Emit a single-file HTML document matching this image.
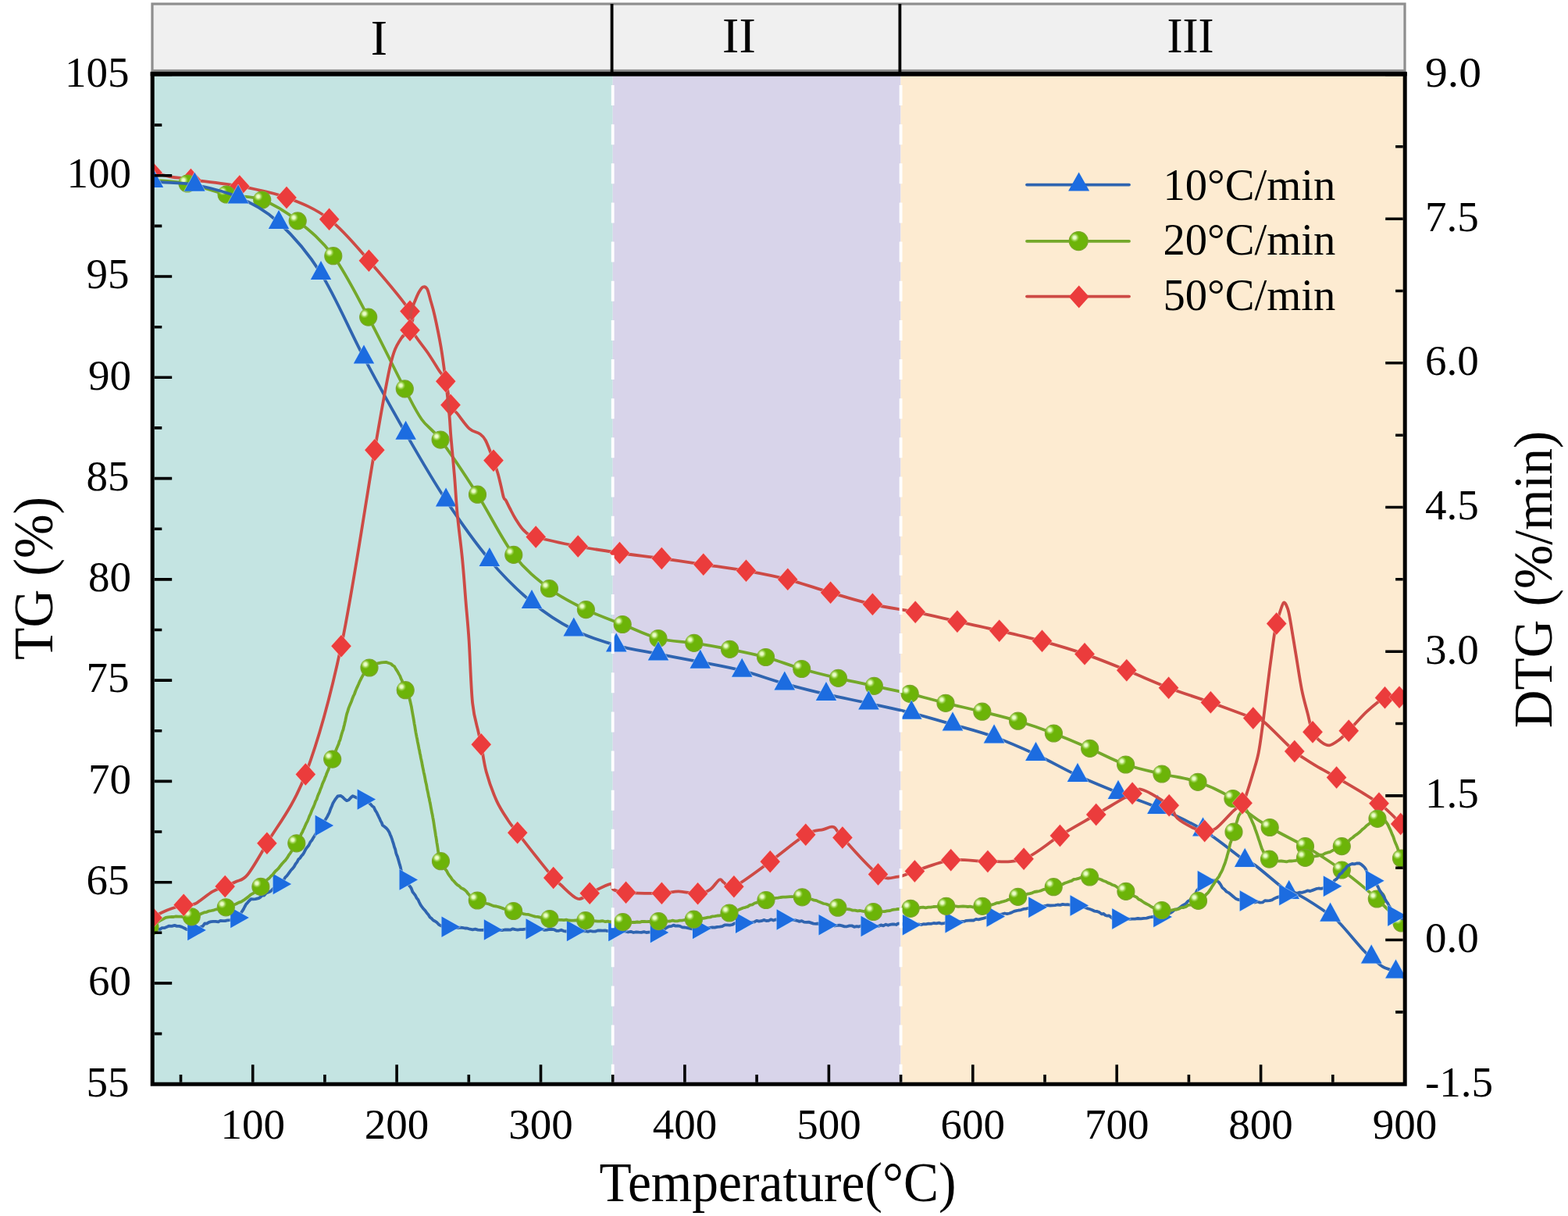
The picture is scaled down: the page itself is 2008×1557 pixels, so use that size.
<!DOCTYPE html><html><head><meta charset="utf-8"><style>html,body{margin:0;padding:0;background:#fff;}svg{display:block}</style></head><body>
<svg width="2008" height="1557" viewBox="0 0 2008 1557">
<defs>
<radialGradient id="ghl" cx="0.5" cy="0.5" r="0.5">
<stop offset="0" stop-color="#f4ffd8" stop-opacity="1"/><stop offset="0.35" stop-color="#e6fbc0" stop-opacity="0.95"/><stop offset="1" stop-color="#a8dc60" stop-opacity="0"/>
</radialGradient>
<clipPath id="plotclip"><rect x="195.2" y="95.0" width="1604.0" height="1293.2"/></clipPath>
</defs>
<rect width="2008" height="1557" fill="#ffffff"/>
<g>
<rect x="195" y="5" width="1604" height="85.5" fill="#f0f0f0" stroke="#8e8e8e" stroke-width="3.2"/>
<line x1="783.6" y1="5" x2="783.6" y2="94" stroke="#000" stroke-width="3.8"/>
<line x1="1152.4" y1="5" x2="1152.4" y2="94" stroke="#000" stroke-width="3.8"/>
<text x="485.4" y="69.7" font-size="64" text-anchor="middle" font-family="Liberation Serif, Times New Roman, serif" fill="#000">I</text>
<text x="946.4" y="66.5" font-size="64" text-anchor="middle" font-family="Liberation Serif, Times New Roman, serif" fill="#000">II</text>
<text x="1524.6" y="66.5" font-size="64" text-anchor="middle" textLength="60" lengthAdjust="spacingAndGlyphs" font-family="Liberation Serif, Times New Roman, serif" fill="#000">III</text>
<rect x="195.2" y="95.0" width="589.5" height="1293.2" fill="#c4e4e2"/>
<rect x="784.7" y="95.0" width="368.8" height="1293.2" fill="#d8d4ea"/>
<rect x="1153.6" y="95.0" width="645.6" height="1293.2" fill="#fdebd1"/>
<g clip-path="url(#plotclip)">
<path d="M195.0,221.0C199.2,221.9 213.4,225.4 219.9,226.6C226.4,227.8 229.7,227.4 233.8,228.0C237.9,228.6 232.2,228.2 244.4,230.0C256.6,231.8 286.4,234.7 306.8,238.5C327.2,242.3 347.9,246.0 367.0,253.0C386.1,260.0 404.0,267.2 421.6,280.7C439.2,294.1 455.2,314.0 472.4,333.7C489.6,353.4 516.0,384.1 525.0,398.6C534.0,413.2 522.7,412.1 526.5,421.0C530.3,429.9 542.1,443.2 548.0,452.0C553.9,460.8 558.2,468.0 562.0,474.0C565.8,480.0 568.3,480.8 570.8,488.2C573.3,495.6 574.5,511.7 577.0,518.6C579.5,525.6 581.9,524.9 585.9,529.9C589.9,534.9 596.4,544.6 601.1,548.9C605.8,553.2 610.8,553.0 614.3,555.5C617.8,558.0 618.9,558.3 621.9,564.0C624.9,569.7 629.4,582.6 632.0,589.6C634.6,596.6 635.9,600.6 637.5,606.0C639.1,611.4 640.2,616.8 641.5,622.0C642.8,627.2 643.9,633.8 645.0,637.0C646.1,640.2 646.7,638.7 648.0,641.0C649.3,643.3 651.0,647.2 653.0,651.0C655.0,654.8 657.0,659.2 660.0,664.0C663.0,668.8 666.8,675.6 671.2,679.5C675.6,683.4 674.7,684.2 686.2,687.5C697.7,690.8 722.3,696.1 740.2,699.5C758.1,702.9 775.6,705.4 793.5,708.0C811.4,710.6 829.4,712.5 847.3,715.0C865.2,717.5 882.8,720.2 900.8,722.8C918.8,725.4 937.5,727.6 955.5,730.8C973.5,734.0 990.8,737.2 1008.8,741.9C1026.8,746.6 1045.5,753.5 1063.6,758.8C1081.7,764.1 1099.3,769.6 1117.4,773.8C1135.5,777.9 1154.1,780.1 1172.2,783.7C1190.3,787.4 1208.0,791.7 1225.9,795.7C1243.8,799.7 1261.6,803.4 1279.7,807.6C1297.8,811.8 1316.3,815.8 1334.5,820.8C1352.7,825.8 1371.0,831.1 1389.0,837.4C1407.0,843.6 1424.9,851.1 1442.8,858.3C1460.7,865.5 1478.7,873.9 1496.6,880.7C1514.5,887.6 1532.4,892.9 1550.4,899.4C1568.4,905.9 1593.3,915.2 1604.8,919.5C1616.3,923.8 1610.5,917.9 1619.3,925.0C1628.1,932.1 1647.3,953.0 1657.8,962.0C1668.3,971.0 1673.5,973.3 1682.5,978.9C1691.5,984.5 1697.7,987.2 1711.6,995.5C1725.5,1003.8 1752.3,1018.9 1766.0,1028.8C1779.7,1038.7 1788.4,1049.1 1793.7,1055.0C1799.0,1060.9 1797.3,1062.5 1798.0,1064.0" fill="none" stroke="#cd4a45" stroke-width="3.8" stroke-linejoin="round" stroke-linecap="round"/>
<g fill="#eb3c3c" stroke="#ffc8c0" stroke-opacity="0.5" stroke-width="1.4" paint-order="stroke" stroke-linejoin="round">
<path d="M195.0,206.8L207.8,221.0L195.0,235.2L182.2,221.0Z"/>
<path d="M244.4,215.8L257.1,230.0L244.4,244.2L231.7,230.0Z"/>
<path d="M306.8,224.2L319.6,238.5L306.8,252.8L294.1,238.5Z"/>
<path d="M367.0,238.8L379.8,253.0L367.0,267.2L354.2,253.0Z"/>
<path d="M421.6,266.4L434.4,280.7L421.6,294.9L408.9,280.7Z"/>
<path d="M472.4,319.4L485.1,333.7L472.4,347.9L459.6,333.7Z"/>
<path d="M525.0,384.4L537.8,398.6L525.0,412.9L512.2,398.6Z"/>
<path d="M577.0,504.4L589.8,518.6L577.0,532.9L564.2,518.6Z"/>
<path d="M632.0,575.4L644.8,589.6L632.0,603.9L619.2,589.6Z"/>
<path d="M686.2,673.2L699.0,687.5L686.2,701.8L673.5,687.5Z"/>
<path d="M740.2,685.2L753.0,699.5L740.2,713.8L727.5,699.5Z"/>
<path d="M793.5,693.8L806.2,708.0L793.5,722.2L780.8,708.0Z"/>
<path d="M847.3,700.8L860.0,715.0L847.3,729.2L834.5,715.0Z"/>
<path d="M900.8,708.5L913.5,722.8L900.8,737.0L888.0,722.8Z"/>
<path d="M955.5,716.5L968.2,730.8L955.5,745.0L942.8,730.8Z"/>
<path d="M1008.8,727.6L1021.5,741.9L1008.8,756.1L996.0,741.9Z"/>
<path d="M1063.6,744.5L1076.3,758.8L1063.6,773.0L1050.8,758.8Z"/>
<path d="M1117.4,759.5L1130.2,773.8L1117.4,788.0L1104.7,773.8Z"/>
<path d="M1172.2,769.5L1185.0,783.7L1172.2,798.0L1159.5,783.7Z"/>
<path d="M1225.9,781.5L1238.7,795.7L1225.9,810.0L1213.2,795.7Z"/>
<path d="M1279.7,793.4L1292.5,807.6L1279.7,821.9L1267.0,807.6Z"/>
<path d="M1334.5,806.5L1347.2,820.8L1334.5,835.0L1321.8,820.8Z"/>
<path d="M1389.0,823.1L1401.8,837.4L1389.0,851.6L1376.2,837.4Z"/>
<path d="M1442.8,844.0L1455.5,858.3L1442.8,872.5L1430.0,858.3Z"/>
<path d="M1496.6,866.5L1509.3,880.7L1496.6,895.0L1483.8,880.7Z"/>
<path d="M1550.4,885.1L1563.2,899.4L1550.4,913.6L1537.7,899.4Z"/>
<path d="M1604.8,905.2L1617.5,919.5L1604.8,933.8L1592.0,919.5Z"/>
<path d="M1657.8,947.8L1670.5,962.0L1657.8,976.2L1645.0,962.0Z"/>
<path d="M1711.6,981.2L1724.3,995.5L1711.6,1009.8L1698.8,995.5Z"/>
<path d="M1766.0,1014.5L1778.8,1028.8L1766.0,1043.0L1753.2,1028.8Z"/>
<path d="M1793.7,1040.8L1806.5,1055.0L1793.7,1069.2L1781.0,1055.0Z"/>
</g>
<path d="M195.0,230.5C202.5,231.2 224.2,231.9 240.0,235.0C255.8,238.1 274.1,245.5 290.0,249.0C305.9,252.5 320.5,250.3 335.7,256.0C350.9,261.6 366.0,270.9 381.2,282.9C396.4,294.8 411.7,307.2 426.8,327.7C441.9,348.2 456.4,377.7 471.7,406.1C486.9,434.5 506.9,476.1 518.3,497.9C529.7,519.7 532.4,526.1 540.0,537.0C547.6,547.9 552.2,547.1 564.1,563.1C576.0,579.1 595.9,608.7 611.5,633.2C627.1,657.8 642.5,690.3 657.8,710.4C673.1,730.5 688.1,742.0 703.5,753.7C718.9,765.4 734.8,773.0 750.4,780.6C766.0,788.2 781.8,793.4 797.2,799.5C812.6,805.6 827.7,813.5 843.0,817.5C858.3,821.5 873.5,821.1 888.8,823.4C904.1,825.7 919.3,828.4 934.6,831.4C949.9,834.4 965.2,837.3 980.6,841.5C996.0,845.7 1011.2,852.0 1026.7,856.5C1042.2,861.0 1058.0,864.8 1073.5,868.4C1089.0,872.0 1104.1,875.1 1119.4,878.4C1134.7,881.7 1149.9,884.6 1165.2,888.3C1180.5,891.9 1195.6,896.5 1211.0,900.3C1226.4,904.1 1242.4,907.4 1257.8,911.2C1273.2,915.0 1288.3,918.6 1303.6,923.2C1318.9,927.8 1334.1,933.1 1349.4,939.0C1364.8,944.9 1380.3,951.7 1395.7,958.4C1411.1,965.1 1426.2,973.6 1441.6,979.0C1457.0,984.4 1472.5,987.3 1487.9,991.0C1503.3,994.7 1518.8,996.0 1534.0,1001.3C1549.2,1006.5 1568.7,1016.3 1578.9,1022.5C1589.1,1028.7 1587.3,1032.3 1595.2,1038.5C1603.1,1044.7 1613.5,1052.0 1626.2,1059.5C1638.9,1067.0 1660.2,1077.3 1671.5,1083.6C1682.8,1089.9 1686.2,1092.4 1694.0,1097.5C1701.8,1102.6 1709.6,1107.7 1718.3,1114.0C1727.0,1120.3 1738.5,1129.4 1746.0,1135.6C1753.5,1141.8 1755.1,1143.3 1763.3,1151.0C1771.5,1158.7 1789.0,1176.2 1795.0,1182.0C1801.0,1187.8 1798.3,1185.3 1799.0,1186.0" fill="none" stroke="#74a82a" stroke-width="3.8" stroke-linejoin="round" stroke-linecap="round"/>
<g>
<circle cx="240.0" cy="235.0" r="11.0" fill="#6cb408" stroke="#7aa52c" stroke-width="1.2"/><circle cx="235.0" cy="230.6" r="6" fill="url(#ghl)"/>
<circle cx="290.0" cy="249.0" r="11.0" fill="#6cb408" stroke="#7aa52c" stroke-width="1.2"/><circle cx="285.0" cy="244.6" r="6" fill="url(#ghl)"/>
<circle cx="335.7" cy="256.0" r="11.0" fill="#6cb408" stroke="#7aa52c" stroke-width="1.2"/><circle cx="330.7" cy="251.6" r="6" fill="url(#ghl)"/>
<circle cx="381.2" cy="282.9" r="11.0" fill="#6cb408" stroke="#7aa52c" stroke-width="1.2"/><circle cx="376.2" cy="278.5" r="6" fill="url(#ghl)"/>
<circle cx="426.8" cy="327.7" r="11.0" fill="#6cb408" stroke="#7aa52c" stroke-width="1.2"/><circle cx="421.8" cy="323.3" r="6" fill="url(#ghl)"/>
<circle cx="471.7" cy="406.1" r="11.0" fill="#6cb408" stroke="#7aa52c" stroke-width="1.2"/><circle cx="466.7" cy="401.7" r="6" fill="url(#ghl)"/>
<circle cx="518.3" cy="497.9" r="11.0" fill="#6cb408" stroke="#7aa52c" stroke-width="1.2"/><circle cx="513.3" cy="493.5" r="6" fill="url(#ghl)"/>
<circle cx="564.1" cy="563.1" r="11.0" fill="#6cb408" stroke="#7aa52c" stroke-width="1.2"/><circle cx="559.1" cy="558.7" r="6" fill="url(#ghl)"/>
<circle cx="611.5" cy="633.2" r="11.0" fill="#6cb408" stroke="#7aa52c" stroke-width="1.2"/><circle cx="606.5" cy="628.8" r="6" fill="url(#ghl)"/>
<circle cx="657.8" cy="710.4" r="11.0" fill="#6cb408" stroke="#7aa52c" stroke-width="1.2"/><circle cx="652.8" cy="706.0" r="6" fill="url(#ghl)"/>
<circle cx="703.5" cy="753.7" r="11.0" fill="#6cb408" stroke="#7aa52c" stroke-width="1.2"/><circle cx="698.5" cy="749.3" r="6" fill="url(#ghl)"/>
<circle cx="750.4" cy="780.6" r="11.0" fill="#6cb408" stroke="#7aa52c" stroke-width="1.2"/><circle cx="745.4" cy="776.2" r="6" fill="url(#ghl)"/>
<circle cx="797.2" cy="799.5" r="11.0" fill="#6cb408" stroke="#7aa52c" stroke-width="1.2"/><circle cx="792.2" cy="795.1" r="6" fill="url(#ghl)"/>
<circle cx="843.0" cy="817.5" r="11.0" fill="#6cb408" stroke="#7aa52c" stroke-width="1.2"/><circle cx="838.0" cy="813.1" r="6" fill="url(#ghl)"/>
<circle cx="888.8" cy="823.4" r="11.0" fill="#6cb408" stroke="#7aa52c" stroke-width="1.2"/><circle cx="883.8" cy="819.0" r="6" fill="url(#ghl)"/>
<circle cx="934.6" cy="831.4" r="11.0" fill="#6cb408" stroke="#7aa52c" stroke-width="1.2"/><circle cx="929.6" cy="827.0" r="6" fill="url(#ghl)"/>
<circle cx="980.6" cy="841.5" r="11.0" fill="#6cb408" stroke="#7aa52c" stroke-width="1.2"/><circle cx="975.6" cy="837.1" r="6" fill="url(#ghl)"/>
<circle cx="1026.7" cy="856.5" r="11.0" fill="#6cb408" stroke="#7aa52c" stroke-width="1.2"/><circle cx="1021.7" cy="852.1" r="6" fill="url(#ghl)"/>
<circle cx="1073.5" cy="868.4" r="11.0" fill="#6cb408" stroke="#7aa52c" stroke-width="1.2"/><circle cx="1068.5" cy="864.0" r="6" fill="url(#ghl)"/>
<circle cx="1119.4" cy="878.4" r="11.0" fill="#6cb408" stroke="#7aa52c" stroke-width="1.2"/><circle cx="1114.4" cy="874.0" r="6" fill="url(#ghl)"/>
<circle cx="1165.2" cy="888.3" r="11.0" fill="#6cb408" stroke="#7aa52c" stroke-width="1.2"/><circle cx="1160.2" cy="883.9" r="6" fill="url(#ghl)"/>
<circle cx="1211.0" cy="900.3" r="11.0" fill="#6cb408" stroke="#7aa52c" stroke-width="1.2"/><circle cx="1206.0" cy="895.9" r="6" fill="url(#ghl)"/>
<circle cx="1257.8" cy="911.2" r="11.0" fill="#6cb408" stroke="#7aa52c" stroke-width="1.2"/><circle cx="1252.8" cy="906.8" r="6" fill="url(#ghl)"/>
<circle cx="1303.6" cy="923.2" r="11.0" fill="#6cb408" stroke="#7aa52c" stroke-width="1.2"/><circle cx="1298.6" cy="918.8" r="6" fill="url(#ghl)"/>
<circle cx="1349.4" cy="939.0" r="11.0" fill="#6cb408" stroke="#7aa52c" stroke-width="1.2"/><circle cx="1344.4" cy="934.6" r="6" fill="url(#ghl)"/>
<circle cx="1395.7" cy="958.4" r="11.0" fill="#6cb408" stroke="#7aa52c" stroke-width="1.2"/><circle cx="1390.7" cy="954.0" r="6" fill="url(#ghl)"/>
<circle cx="1441.6" cy="979.0" r="11.0" fill="#6cb408" stroke="#7aa52c" stroke-width="1.2"/><circle cx="1436.6" cy="974.6" r="6" fill="url(#ghl)"/>
<circle cx="1487.9" cy="991.0" r="11.0" fill="#6cb408" stroke="#7aa52c" stroke-width="1.2"/><circle cx="1482.9" cy="986.6" r="6" fill="url(#ghl)"/>
<circle cx="1534.0" cy="1001.3" r="11.0" fill="#6cb408" stroke="#7aa52c" stroke-width="1.2"/><circle cx="1529.0" cy="996.9" r="6" fill="url(#ghl)"/>
<circle cx="1578.9" cy="1022.5" r="11.0" fill="#6cb408" stroke="#7aa52c" stroke-width="1.2"/><circle cx="1573.9" cy="1018.1" r="6" fill="url(#ghl)"/>
<circle cx="1626.2" cy="1059.5" r="11.0" fill="#6cb408" stroke="#7aa52c" stroke-width="1.2"/><circle cx="1621.2" cy="1055.1" r="6" fill="url(#ghl)"/>
<circle cx="1671.5" cy="1083.6" r="11.0" fill="#6cb408" stroke="#7aa52c" stroke-width="1.2"/><circle cx="1666.5" cy="1079.2" r="6" fill="url(#ghl)"/>
<circle cx="1718.3" cy="1114.0" r="11.0" fill="#6cb408" stroke="#7aa52c" stroke-width="1.2"/><circle cx="1713.3" cy="1109.6" r="6" fill="url(#ghl)"/>
<circle cx="1763.3" cy="1151.0" r="11.0" fill="#6cb408" stroke="#7aa52c" stroke-width="1.2"/><circle cx="1758.3" cy="1146.6" r="6" fill="url(#ghl)"/>
<circle cx="1795.0" cy="1182.0" r="11.0" fill="#6cb408" stroke="#7aa52c" stroke-width="1.2"/><circle cx="1790.0" cy="1177.6" r="6" fill="url(#ghl)"/>
</g>
<path d="M196.0,232.0C197.9,232.2 198.8,232.6 207.7,233.4C216.6,234.2 233.1,233.5 249.3,236.7C265.5,239.9 287.1,244.4 305.0,252.5C322.9,260.6 339.3,268.8 357.0,285.0C374.7,301.2 392.8,321.2 411.0,350.0C429.2,378.8 447.9,423.5 466.0,457.6C484.1,491.7 502.1,524.3 519.6,554.8C537.1,585.3 553.2,613.4 571.1,640.4C589.0,667.4 608.6,695.1 626.9,716.9C645.2,738.7 663.0,756.1 681.0,771.0C699.0,785.9 716.8,797.3 734.8,806.5C752.8,815.7 771.2,821.2 789.2,826.4C807.2,831.5 825.1,833.8 843.0,837.4C860.9,841.0 878.9,844.2 896.8,847.7C914.7,851.2 932.2,854.1 950.2,858.7C968.2,863.3 986.8,870.4 1004.8,875.4C1022.8,880.4 1040.1,884.7 1058.0,888.9C1075.9,893.1 1094.2,896.5 1112.4,900.5C1130.6,904.5 1149.3,908.3 1167.2,912.8C1185.1,917.3 1202.3,922.5 1220.0,927.6C1237.7,932.7 1255.3,937.1 1273.1,943.5C1290.8,949.9 1308.7,957.8 1326.5,966.0C1344.3,974.2 1362.4,984.8 1380.0,993.0C1397.6,1001.2 1414.9,1008.1 1432.0,1015.0C1449.1,1021.9 1464.4,1026.2 1482.5,1034.1C1500.6,1042.0 1521.9,1051.3 1540.5,1062.6C1559.1,1073.9 1583.1,1094.5 1594.2,1102.0C1605.3,1109.5 1597.9,1101.1 1607.3,1107.9C1616.7,1114.8 1641.2,1136.6 1650.7,1143.1C1660.2,1149.5 1655.7,1141.8 1664.5,1146.6C1673.3,1151.4 1694.9,1165.6 1703.6,1171.7C1712.3,1177.8 1709.4,1175.3 1716.6,1183.0C1723.8,1190.7 1740.4,1210.7 1747.0,1217.8C1753.6,1224.9 1752.3,1222.3 1756.2,1225.6C1760.1,1228.9 1765.2,1234.5 1770.4,1237.6C1775.6,1240.7 1782.9,1242.0 1787.5,1244.4C1792.1,1246.8 1796.2,1250.7 1798.0,1252.0" fill="none" stroke="#2f64b0" stroke-width="3.8" stroke-linejoin="round" stroke-linecap="round"/>
<g fill="#1c6ce0" stroke="#bfe0ff" stroke-opacity="0.55" stroke-width="1.6" paint-order="stroke" stroke-linejoin="round">
<path d="M196.0,216.0L209.2,240.0L182.8,240.0Z"/>
<path d="M249.3,220.7L262.6,244.7L236.1,244.7Z"/>
<path d="M305.0,236.5L318.2,260.5L291.8,260.5Z"/>
<path d="M357.0,269.0L370.2,293.0L343.8,293.0Z"/>
<path d="M411.0,334.0L424.2,358.0L397.8,358.0Z"/>
<path d="M466.0,441.6L479.2,465.6L452.8,465.6Z"/>
<path d="M519.6,538.8L532.9,562.8L506.4,562.8Z"/>
<path d="M571.1,624.4L584.4,648.4L557.9,648.4Z"/>
<path d="M626.9,700.9L640.1,724.9L613.6,724.9Z"/>
<path d="M681.0,755.0L694.2,779.0L667.8,779.0Z"/>
<path d="M734.8,790.5L748.0,814.5L721.5,814.5Z"/>
<path d="M789.2,810.4L802.5,834.4L776.0,834.4Z"/>
<path d="M843.0,821.4L856.2,845.4L829.8,845.4Z"/>
<path d="M896.8,831.7L910.0,855.7L883.5,855.7Z"/>
<path d="M950.2,842.7L963.5,866.7L937.0,866.7Z"/>
<path d="M1004.8,859.4L1018.0,883.4L991.5,883.4Z"/>
<path d="M1058.0,872.9L1071.2,896.9L1044.8,896.9Z"/>
<path d="M1112.4,884.5L1125.7,908.5L1099.2,908.5Z"/>
<path d="M1167.2,896.8L1180.5,920.8L1154.0,920.8Z"/>
<path d="M1220.0,911.6L1233.2,935.6L1206.8,935.6Z"/>
<path d="M1273.1,927.5L1286.3,951.5L1259.8,951.5Z"/>
<path d="M1326.5,950.0L1339.8,974.0L1313.2,974.0Z"/>
<path d="M1380.0,977.0L1393.2,1001.0L1366.8,1001.0Z"/>
<path d="M1432.0,999.0L1445.2,1023.0L1418.8,1023.0Z"/>
<path d="M1482.5,1018.1L1495.8,1042.1L1469.2,1042.1Z"/>
<path d="M1540.5,1046.6L1553.8,1070.6L1527.2,1070.6Z"/>
<path d="M1594.2,1086.0L1607.5,1110.0L1581.0,1110.0Z"/>
<path d="M1650.7,1127.1L1664.0,1151.1L1637.5,1151.1Z"/>
<path d="M1703.6,1155.7L1716.8,1179.7L1690.3,1179.7Z"/>
<path d="M1756.2,1209.6L1769.5,1233.6L1743.0,1233.6Z"/>
<path d="M1787.5,1228.4L1800.8,1252.4L1774.2,1252.4Z"/>
</g>
<path d="M195.0,1190.0L197.2,1189.7L200.6,1189.3L204.9,1189.8L207.4,1188.2L210.3,1188.2L213.3,1187.0L216.6,1185.6L220.0,1185.9L223.6,1184.9L226.5,1185.9L229.6,1185.9L232.9,1186.9L236.2,1188.5L239.5,1190.2L242.7,1189.8L245.8,1190.5L248.5,1191.2L251.7,1191.1L254.6,1188.9L257.2,1186.8L259.7,1185.9L262.2,1182.5L264.7,1182.6L267.6,1180.8L270.3,1180.1L273.1,1179.8L276.1,1179.9L279.6,1180.3L282.2,1178.8L285.2,1179.2L288.3,1179.1L291.5,1178.3L294.8,1178.2L297.9,1176.6L300.9,1175.6L303.5,1174.5L305.8,1173.3L307.9,1170.3L309.9,1167.1L311.7,1164.4L313.4,1161.0L315.1,1157.8L316.8,1156.1L318.5,1154.0L321.5,1151.2L324.2,1151.4L327.2,1151.1L331.3,1150.2L333.4,1148.8L335.7,1146.7L338.2,1146.6L340.9,1143.5L343.7,1142.4L346.5,1141.2L349.4,1138.2L352.3,1136.6L355.1,1133.5L357.8,1132.2L359.7,1130.5L361.6,1128.1L363.4,1126.6L365.3,1123.4L367.2,1121.7L369.1,1119.2L370.9,1116.7L372.8,1114.0L374.7,1112.1L376.6,1109.7L378.5,1106.3L380.4,1103.9L382.3,1100.2L384.2,1098.7L385.9,1096.1L387.8,1094.2L389.6,1091.2L391.5,1087.4L393.5,1084.7L395.5,1082.3L397.4,1078.2L399.3,1076.1L401.2,1072.7L403.1,1069.8L404.8,1067.0L406.5,1065.7L408.0,1062.2L409.5,1060.2L410.8,1058.5L411.9,1057.7L415.5,1050.9L416.6,1049.8L417.7,1047.9L419.1,1045.7L420.6,1042.7L422.0,1039.7L423.4,1035.6L424.8,1032.5L426.2,1028.8L427.6,1026.4L429.1,1023.9L432.5,1019.5L436.2,1018.9L438.8,1020.6L441.4,1023.3L444.0,1025.2L446.6,1024.2L449.3,1021.2L451.7,1019.1L454.7,1020.5L457.8,1021.9L461.7,1022.7L465.9,1024.4L468.9,1025.5L471.9,1027.3L474.8,1030.0L476.8,1032.2L478.7,1033.5L480.6,1037.6L482.5,1040.5L483.7,1043.1L485.0,1045.8L486.2,1048.1L487.4,1051.1L488.7,1053.3L490.0,1056.7L492.1,1058.2L494.2,1059.9L496.4,1062.3L498.7,1066.1L499.7,1068.7L500.7,1070.9L501.8,1073.8L502.9,1077.4L504.0,1080.7L505.1,1084.7L506.2,1087.5L507.2,1092.3L508.1,1094.9L509.0,1096.9L510.1,1100.6L511.1,1104.2L512.0,1107.4L512.8,1110.0L513.6,1114.0L514.3,1116.8L515.1,1118.0L516.2,1120.8L517.1,1121.5L519.8,1125.8L520.9,1128.0L522.1,1130.0L523.5,1133.4L525.0,1134.9L526.7,1137.4L528.4,1142.0L530.1,1144.2L531.9,1146.5L533.7,1150.1L535.4,1152.0L537.0,1155.5L538.6,1158.7L540.0,1160.7L542.4,1163.8L544.6,1166.1L546.6,1169.0L548.6,1171.2L550.6,1174.5L552.7,1176.1L555.0,1178.5L557.5,1179.7L559.6,1181.3L561.9,1183.8L564.7,1185.4L568.5,1186.3L573.7,1187.3L575.8,1187.6L578.2,1187.8L580.7,1187.2L583.4,1188.0L586.2,1188.0L589.2,1187.6L592.3,1187.9L595.4,1188.5L598.7,1188.7L601.9,1189.7L605.3,1190.3L608.6,1189.6L612.0,1190.6L615.3,1190.9L618.6,1190.9L621.8,1190.0L624.9,1189.8L628.0,1189.9L631.2,1189.9L634.4,1190.0L637.5,1190.7L640.7,1191.2L643.9,1191.0L647.1,1190.3L650.3,1190.5L653.4,1190.7L656.6,1189.3L659.8,1190.2L662.9,1190.6L666.1,1190.2L669.3,1190.1L672.4,1189.6L675.5,1189.0L678.7,1190.1L681.8,1189.3L684.9,1190.2L688.0,1190.6L691.1,1189.7L694.2,1189.8L697.3,1190.9L700.3,1190.7L703.4,1189.9L706.4,1190.0L709.5,1190.2L712.6,1191.8L715.6,1191.8L718.7,1190.7L721.8,1192.1L724.8,1192.5L727.9,1192.1L731.0,1191.6L734.1,1192.1L737.2,1191.4L740.3,1191.2L743.5,1193.0L746.6,1192.4L749.7,1192.2L752.9,1192.9L756.0,1192.0L759.2,1192.7L762.3,1192.6L765.4,1191.5L768.6,1191.5L771.8,1191.6L774.9,1191.4L778.1,1192.1L781.2,1191.5L784.4,1191.8L787.5,1191.3L790.7,1192.8L794.0,1191.9L797.4,1192.3L800.8,1192.7L804.3,1193.5L807.8,1192.8L811.2,1194.0L814.7,1193.4L818.1,1193.7L821.4,1193.9L824.7,1193.1L827.8,1194.0L830.8,1193.6L833.6,1193.4L836.3,1194.8L838.8,1193.6L841.0,1194.0L846.0,1193.4L849.3,1191.6L851.6,1189.3L853.7,1187.8L856.3,1186.3L860.0,1185.9L862.5,1184.6L865.2,1185.6L867.9,1185.4L870.8,1185.9L873.8,1187.4L877.0,1187.5L880.3,1188.2L883.8,1189.0L887.5,1189.7L891.3,1189.0L895.3,1189.3L897.9,1189.0L900.6,1188.8L903.3,1188.8L906.2,1188.1L909.2,1187.8L912.2,1187.3L915.3,1187.7L918.5,1186.8L921.7,1186.6L924.9,1186.2L928.1,1184.4L931.3,1184.4L934.6,1184.6L937.8,1184.0L941.0,1182.2L944.1,1181.8L947.2,1181.9L950.2,1180.9L953.4,1180.9L956.5,1180.2L959.6,1180.9L962.7,1180.8L965.8,1180.6L968.9,1178.9L972.0,1179.6L975.1,1179.2L978.2,1177.9L981.2,1179.0L984.3,1178.9L987.4,1177.3L990.5,1178.5L993.6,1177.4L996.7,1177.5L999.8,1178.3L1002.9,1178.1L1005.9,1177.0L1008.8,1177.7L1011.8,1178.1L1014.8,1178.1L1017.8,1178.2L1020.7,1178.8L1023.7,1179.9L1026.7,1179.1L1029.7,1180.6L1032.7,1180.8L1035.7,1180.6L1038.7,1181.6L1041.7,1182.6L1044.7,1182.8L1047.7,1182.5L1050.7,1184.5L1053.7,1184.4L1056.7,1185.0L1059.7,1183.7L1062.8,1184.2L1065.9,1184.0L1069.0,1185.5L1072.1,1184.8L1075.3,1184.7L1078.4,1185.4L1081.5,1186.4L1084.7,1186.3L1087.8,1185.4L1090.8,1185.3L1093.9,1186.8L1096.9,1186.2L1099.8,1186.5L1102.6,1185.4L1105.4,1185.3L1108.2,1186.5L1110.8,1186.0L1114.4,1185.2L1117.9,1186.7L1121.4,1185.9L1124.8,1185.9L1128.1,1184.4L1131.3,1185.4L1134.4,1183.7L1137.4,1184.8L1140.2,1183.8L1142.9,1183.3L1145.4,1183.5L1147.7,1184.0L1149.9,1182.7L1154.3,1182.5L1156.0,1183.7L1158.3,1183.6L1164.1,1183.5L1166.1,1183.5L1168.4,1183.3L1170.9,1183.5L1173.5,1183.6L1176.4,1183.4L1179.4,1184.1L1182.5,1183.2L1185.7,1183.4L1189.0,1182.7L1192.3,1182.8L1195.7,1182.0L1199.1,1182.3L1202.5,1181.6L1205.9,1182.7L1209.2,1182.1L1212.5,1181.2L1215.6,1181.4L1218.7,1182.0L1221.9,1180.2L1225.0,1181.1L1228.1,1180.1L1231.3,1179.8L1234.4,1180.0L1237.5,1178.8L1240.6,1178.6L1243.7,1178.5L1246.8,1178.5L1249.9,1176.9L1253.0,1177.3L1256.1,1176.6L1259.2,1175.9L1262.3,1175.0L1265.4,1174.3L1268.6,1173.3L1271.7,1172.8L1274.7,1172.2L1277.6,1172.8L1280.6,1171.2L1283.6,1170.4L1286.6,1169.5L1289.6,1170.2L1292.6,1169.5L1295.6,1168.4L1298.6,1166.9L1301.6,1166.1L1304.6,1165.5L1307.6,1165.1L1310.6,1163.9L1313.6,1163.7L1316.6,1162.8L1319.5,1163.5L1322.5,1163.1L1325.5,1161.9L1328.7,1160.9L1331.9,1161.8L1335.1,1160.3L1338.3,1160.0L1341.6,1159.1L1344.8,1159.5L1348.1,1159.4L1351.3,1159.2L1354.5,1158.5L1357.7,1158.9L1360.9,1157.9L1364.0,1158.4L1367.1,1158.1L1370.1,1158.7L1373.1,1158.3L1376.0,1158.4L1378.8,1159.2L1382.2,1159.6L1385.6,1160.9L1388.9,1161.7L1392.3,1163.1L1395.6,1164.0L1398.8,1165.2L1401.9,1166.7L1405.0,1167.0L1407.9,1168.1L1410.7,1170.4L1413.3,1170.0L1415.7,1172.0L1418.0,1172.7L1420.0,1172.3L1424.2,1175.4L1425.5,1176.6L1427.2,1176.6L1432.5,1177.0L1434.6,1177.2L1437.1,1175.9L1440.0,1176.6L1443.1,1176.4L1446.4,1176.9L1449.9,1176.7L1453.5,1176.6L1457.2,1176.0L1460.9,1176.4L1464.6,1175.8L1468.3,1175.6L1471.7,1174.6L1475.0,1174.0L1478.1,1174.0L1480.9,1174.2L1483.4,1173.5L1485.5,1174.6L1491.9,1173.2L1493.7,1172.1L1496.7,1170.0L1499.0,1168.9L1501.7,1167.1L1504.6,1164.6L1507.7,1164.2L1510.7,1162.3L1513.6,1160.0L1516.3,1158.4L1518.6,1157.0L1521.5,1153.7L1523.7,1152.9L1525.6,1150.0L1527.5,1147.5L1529.6,1145.3L1531.3,1143.8L1532.9,1140.1L1534.6,1138.2L1536.3,1135.7L1538.1,1132.1L1539.9,1129.6L1541.9,1128.2L1545.0,1127.2L1548.4,1126.9L1551.8,1126.8L1555.1,1127.5L1558.0,1127.4L1560.8,1129.5L1563.1,1132.6L1565.3,1136.6L1568.0,1138.8L1570.6,1141.6L1573.4,1143.1L1576.4,1145.5L1579.3,1148.0L1582.2,1150.4L1585.5,1151.9L1588.6,1152.7L1592.0,1152.5L1595.9,1153.4L1598.5,1153.7L1601.2,1154.1L1604.1,1153.8L1607.1,1155.5L1610.3,1154.4L1613.7,1155.7L1617.2,1155.3L1619.9,1153.1L1622.7,1153.3L1625.8,1153.1L1628.9,1152.4L1632.1,1150.4L1635.2,1149.1L1638.3,1148.0L1641.2,1148.3L1644.0,1146.2L1646.5,1146.1L1650.0,1144.5L1652.9,1144.6L1655.5,1144.9L1658.1,1143.0L1661.0,1143.8L1664.5,1142.6L1667.4,1142.8L1670.7,1141.9L1674.2,1140.4L1677.9,1141.0L1681.7,1139.6L1685.3,1138.2L1688.6,1137.5L1691.6,1137.9L1694.0,1137.3L1698.5,1136.2L1700.8,1135.4L1703.0,1134.5L1705.0,1132.7L1706.9,1131.4L1708.9,1127.3L1711.4,1125.7L1713.4,1123.4L1715.7,1119.3L1718.1,1117.8L1720.5,1114.6L1722.9,1112.3L1725.2,1109.2L1728.4,1107.3L1731.6,1106.0L1734.6,1106.4L1737.4,1105.5L1740.4,1105.3L1743.1,1106.7L1746.0,1109.2L1747.5,1110.8L1749.2,1113.4L1750.9,1117.7L1752.7,1119.7L1754.4,1123.9L1755.9,1125.3L1757.3,1127.4L1760.2,1130.6L1763.4,1133.3L1764.8,1135.7L1766.4,1139.3L1768.3,1142.1L1770.2,1145.1L1772.1,1147.9L1774.0,1151.6L1775.7,1154.6L1777.2,1156.5L1778.9,1160.0L1780.2,1161.9L1781.4,1166.1L1782.6,1168.2L1783.9,1171.1L1785.5,1172.8L1788.6,1174.0L1792.3,1174.4L1795.7,1176.4L1798.0,1176.0" fill="none" stroke="#2f64b0" stroke-width="3.8" stroke-linejoin="round" stroke-linecap="round"/>
<g fill="#1c6ce0" stroke="#bfe0ff" stroke-opacity="0.55" stroke-width="1.6" paint-order="stroke" stroke-linejoin="round">
<path d="M263.8,1191.0L240.2,1204.2L240.2,1177.8Z"/>
<path d="M318.8,1175.0L295.2,1188.2L295.2,1161.8Z"/>
<path d="M373.1,1131.9L349.6,1145.2L349.6,1118.7Z"/>
<path d="M427.1,1057.0L403.6,1070.2L403.6,1043.8Z"/>
<path d="M481.1,1023.6L457.6,1036.8L457.6,1010.4Z"/>
<path d="M535.0,1126.5L511.5,1139.8L511.5,1113.2Z"/>
<path d="M589.0,1186.7L565.5,1200.0L565.5,1173.5Z"/>
<path d="M643.2,1190.4L619.8,1203.7L619.8,1177.2Z"/>
<path d="M697.0,1189.6L673.5,1202.8L673.5,1176.3Z"/>
<path d="M749.4,1192.0L725.9,1205.2L725.9,1178.8Z"/>
<path d="M802.8,1192.0L779.2,1205.2L779.2,1178.8Z"/>
<path d="M856.2,1194.0L832.8,1207.2L832.8,1180.8Z"/>
<path d="M910.5,1189.1L887.0,1202.3L887.0,1175.8Z"/>
<path d="M965.5,1181.7L942.0,1195.0L942.0,1168.5Z"/>
<path d="M1018.1,1177.5L994.6,1190.8L994.6,1164.2Z"/>
<path d="M1072.0,1184.2L1048.5,1197.5L1048.5,1171.0Z"/>
<path d="M1126.0,1186.1L1102.5,1199.3L1102.5,1172.8Z"/>
<path d="M1179.3,1184.2L1155.8,1197.5L1155.8,1171.0Z"/>
<path d="M1234.0,1181.2L1210.5,1194.5L1210.5,1168.0Z"/>
<path d="M1287.0,1173.5L1263.5,1186.8L1263.5,1160.2Z"/>
<path d="M1340.8,1161.8L1317.2,1175.0L1317.2,1148.5Z"/>
<path d="M1394.0,1159.6L1370.5,1172.8L1370.5,1146.3Z"/>
<path d="M1447.8,1176.6L1424.2,1189.8L1424.2,1163.3Z"/>
<path d="M1500.8,1174.0L1477.2,1187.2L1477.2,1160.8Z"/>
<path d="M1557.2,1128.2L1533.7,1141.5L1533.7,1115.0Z"/>
<path d="M1611.2,1153.4L1587.7,1166.7L1587.7,1140.2Z"/>
<path d="M1661.8,1146.0L1638.2,1159.2L1638.2,1132.8Z"/>
<path d="M1718.2,1134.8L1694.8,1148.0L1694.8,1121.5Z"/>
<path d="M1772.5,1127.8L1749.0,1141.0L1749.0,1114.5Z"/>
<path d="M1800.8,1172.5L1777.2,1185.8L1777.2,1159.2Z"/>
</g>
<path d="M192.0,1187.0L193.9,1185.8L196.5,1184.1L199.7,1182.5L202.9,1180.0L206.0,1178.2L208.7,1176.9L212.3,1174.8L215.3,1174.3L219.9,1173.9L222.4,1174.0L225.4,1173.3L228.6,1173.6L232.1,1173.6L235.6,1174.4L239.0,1174.3L242.3,1173.6L245.3,1174.3L248.8,1173.6L252.0,1172.4L255.1,1171.3L258.1,1169.7L261.2,1168.4L264.7,1167.8L267.6,1166.6L270.7,1166.0L273.9,1165.3L277.2,1164.3L280.4,1164.0L283.6,1163.2L286.6,1162.9L289.3,1161.8L293.1,1160.8L296.6,1159.6L299.7,1158.6L302.7,1157.2L305.8,1155.6L308.9,1154.6L312.0,1152.7L314.9,1150.6L317.9,1148.4L320.7,1145.9L322.9,1144.5L324.5,1143.8L326.3,1142.5L329.2,1140.7L333.9,1135.3L335.2,1134.3L336.6,1132.4L338.1,1131.4L339.7,1129.7L341.3,1127.1L343.1,1125.6L344.9,1124.4L346.8,1122.1L348.7,1120.6L350.7,1118.0L352.7,1115.5L354.8,1113.8L356.9,1111.6L359.0,1108.7L361.2,1106.0L363.3,1103.7L365.4,1101.6L367.6,1098.7L369.7,1095.2L371.8,1092.3L373.8,1089.2L375.9,1086.0L377.9,1083.4L379.8,1079.5L381.0,1077.7L382.2,1075.3L383.4,1072.7L384.7,1070.8L385.9,1067.6L387.2,1065.5L388.5,1062.3L389.8,1059.8L391.1,1056.7L392.4,1053.9L393.7,1051.6L395.0,1048.4L396.3,1044.9L397.6,1042.4L399.0,1038.6L400.3,1035.6L401.6,1032.9L402.9,1029.6L404.2,1025.9L405.5,1023.6L406.7,1019.7L408.0,1016.6L409.2,1014.0L410.4,1010.4L411.7,1007.4L412.8,1004.1L414.0,1001.2L415.2,998.8L416.3,995.6L417.4,993.2L418.4,990.2L419.5,987.7L420.5,985.7L421.4,982.7L422.4,980.5L423.3,978.5L424.1,975.7L424.9,973.6L425.7,972.5L427.9,966.9L429.8,961.7L431.4,957.8L432.6,955.1L433.7,952.5L434.5,949.4L435.3,948.0L435.9,946.0L436.5,943.8L437.1,941.6L437.8,939.1L438.6,936.5L439.5,934.3L440.3,930.6L441.0,928.2L441.7,924.9L442.3,922.7L442.9,919.6L443.6,916.4L444.4,913.3L445.3,910.6L446.5,906.6L447.5,904.1L448.6,901.5L449.8,898.8L451.0,895.3L452.4,891.7L453.8,889.0L455.2,885.0L456.6,881.6L458.0,878.6L459.3,875.8L460.6,872.6L461.9,870.1L463.0,867.9L464.0,866.1L466.9,860.6L469.2,858.1L471.1,857.0L473.0,855.5L476.5,852.3L480.0,850.7L483.9,849.4L488.4,848.4L491.2,848.1L494.4,847.9L497.7,849.0L500.7,850.0L502.9,852.0L505.1,853.4L507.1,856.9L509.1,859.8L511.0,863.4L512.3,865.6L513.6,869.2L514.8,871.4L515.9,875.0L517.1,878.3L518.2,881.4L519.2,883.9L520.5,886.7L521.7,888.7L522.9,890.8L524.1,893.2L525.4,898.3L525.9,900.6L526.4,902.9L526.9,905.0L527.4,908.1L527.9,911.0L528.4,913.8L529.0,917.0L529.5,919.9L530.1,923.4L530.6,926.8L531.2,929.7L531.8,933.6L532.4,937.3L533.0,940.5L533.6,943.6L534.2,946.2L534.7,949.4L535.3,952.2L535.9,955.0L536.5,958.4L537.1,960.7L537.7,964.4L538.3,966.7L538.9,970.4L539.6,973.3L540.2,976.1L540.8,979.7L541.4,982.6L542.1,985.8L542.7,989.1L543.3,991.5L543.9,994.3L544.5,997.6L545.1,1001.1L545.8,1003.7L546.4,1006.7L547.0,1010.5L547.7,1013.4L548.3,1016.2L548.9,1019.7L549.6,1022.2L550.2,1025.6L550.8,1028.2L551.4,1031.5L552.0,1034.8L552.6,1037.9L553.1,1040.8L553.7,1043.2L554.2,1046.3L554.8,1049.3L555.3,1052.4L555.9,1056.2L556.4,1059.9L557.0,1063.3L557.5,1066.6L558.0,1070.1L558.5,1072.7L559.0,1075.7L559.4,1079.0L559.9,1081.7L560.3,1084.3L560.7,1087.0L561.0,1089.5L561.4,1091.4L562.2,1097.0L562.6,1099.5L564.5,1103.2L565.6,1104.7L567.0,1106.7L568.5,1109.3L570.2,1113.0L572.0,1115.1L573.8,1118.7L575.7,1121.3L577.5,1123.7L579.3,1126.6L580.9,1127.9L583.4,1130.8L585.8,1133.2L588.1,1134.5L590.5,1136.9L592.8,1137.9L595.3,1139.6L597.5,1141.6L599.4,1144.3L601.3,1146.3L603.7,1148.7L606.9,1150.9L611.3,1153.3L613.4,1154.3L615.6,1154.9L618.1,1155.2L620.7,1156.4L623.5,1157.0L626.4,1157.7L629.5,1159.0L632.6,1160.2L635.7,1160.5L638.9,1161.4L642.1,1162.4L645.3,1163.6L648.5,1164.2L651.6,1165.1L654.7,1166.0L657.6,1166.4L660.7,1167.6L663.8,1168.5L666.9,1168.4L670.0,1170.1L673.0,1170.6L676.1,1170.8L679.2,1171.8L682.3,1172.7L685.4,1173.6L688.5,1173.8L691.6,1174.6L694.7,1175.4L697.7,1175.9L700.8,1176.5L703.9,1176.5L707.0,1177.0L710.0,1176.9L713.1,1177.6L716.1,1177.9L719.2,1177.9L722.2,1178.1L725.2,1177.7L728.3,1178.5L731.3,1178.6L734.4,1178.7L737.4,1178.3L740.5,1178.6L743.6,1178.2L746.7,1178.9L749.8,1179.0L752.9,1178.6L756.1,1178.5L759.3,1179.0L762.5,1179.3L765.7,1179.7L768.9,1179.5L772.1,1179.2L775.3,1180.2L778.5,1179.6L781.7,1180.5L784.9,1180.0L788.1,1180.2L791.3,1180.8L794.5,1180.2L797.6,1180.2L800.7,1180.6L803.8,1180.9L806.9,1181.0L810.0,1180.8L813.0,1181.0L816.1,1180.5L819.2,1180.9L822.2,1179.9L825.2,1180.0L828.3,1180.2L831.3,1179.8L834.3,1180.2L837.3,1180.0L840.4,1179.7L843.4,1179.9L846.4,1179.6L849.4,1179.2L852.4,1179.2L855.4,1179.6L858.4,1179.5L861.4,1178.7L864.4,1179.3L867.4,1179.3L870.4,1178.7L873.4,1178.6L876.4,1178.0L879.4,1178.1L882.4,1177.8L885.4,1177.6L888.4,1176.7L891.4,1177.3L894.4,1176.5L897.5,1176.0L900.5,1175.9L903.5,1175.3L906.5,1174.7L909.6,1174.4L912.6,1173.3L915.6,1173.2L918.7,1172.5L921.7,1172.4L924.8,1171.7L927.8,1170.3L930.9,1169.8L934.0,1168.6L936.9,1168.1L939.8,1167.6L942.7,1166.6L945.7,1165.1L948.6,1163.8L951.6,1162.5L954.5,1161.8L957.5,1160.9L960.4,1158.9L963.4,1158.4L966.3,1156.5L969.3,1155.6L972.2,1154.6L975.1,1154.2L978.1,1153.0L981.0,1152.4L984.1,1152.0L987.2,1150.8L990.3,1150.9L993.4,1149.8L996.5,1149.7L999.6,1149.0L1002.7,1148.6L1005.8,1148.7L1008.9,1148.4L1011.9,1148.2L1015.0,1148.1L1018.1,1148.3L1021.2,1148.0L1024.2,1148.2L1027.3,1148.9L1030.4,1149.4L1033.4,1149.8L1036.5,1150.9L1039.5,1151.5L1042.6,1152.7L1045.6,1153.1L1048.6,1154.6L1051.7,1155.8L1054.7,1157.0L1057.7,1157.5L1060.8,1158.6L1063.8,1160.2L1066.8,1160.4L1069.9,1162.0L1072.9,1162.6L1076.0,1162.4L1079.1,1163.1L1082.2,1164.1L1085.4,1164.2L1088.6,1164.5L1091.8,1165.6L1095.0,1165.6L1098.2,1166.3L1101.3,1166.0L1104.4,1166.6L1107.4,1167.1L1110.3,1166.6L1113.1,1167.0L1115.9,1167.6L1118.5,1167.9L1122.3,1168.0L1125.9,1167.0L1129.4,1167.2L1132.8,1167.1L1136.0,1166.4L1139.1,1166.2L1142.0,1165.2L1144.8,1164.7L1147.4,1164.4L1149.9,1164.0L1153.6,1164.2L1156.1,1164.0L1158.2,1163.9L1161.2,1163.3L1166.1,1163.0L1168.3,1162.8L1170.7,1163.3L1173.3,1163.3L1176.1,1163.0L1179.1,1161.9L1182.2,1161.6L1185.4,1162.3L1188.7,1161.6L1192.0,1161.6L1195.4,1161.0L1198.7,1160.9L1202.1,1160.8L1205.4,1160.5L1208.6,1160.5L1211.7,1159.8L1214.8,1160.4L1217.8,1160.6L1220.9,1160.0L1224.0,1160.3L1227.1,1160.8L1230.2,1160.6L1233.3,1160.5L1236.4,1160.6L1239.5,1161.0L1242.6,1160.6L1245.7,1161.5L1248.8,1161.3L1251.9,1161.1L1254.9,1161.0L1258.0,1160.4L1261.1,1159.8L1264.1,1159.4L1267.2,1158.7L1270.2,1158.5L1273.3,1157.5L1276.3,1156.2L1279.3,1156.0L1282.4,1154.9L1285.4,1154.1L1288.4,1153.2L1291.5,1151.8L1294.5,1151.4L1297.5,1150.5L1300.6,1149.4L1303.6,1148.7L1306.6,1147.8L1309.7,1146.7L1312.7,1146.1L1315.7,1144.6L1318.8,1144.1L1321.8,1143.3L1324.8,1142.0L1327.9,1141.5L1330.9,1141.0L1333.9,1140.1L1337.0,1138.8L1340.0,1138.7L1343.1,1137.6L1346.1,1136.4L1349.2,1135.9L1352.1,1134.9L1355.0,1133.9L1357.8,1132.8L1360.7,1132.3L1363.6,1130.8L1366.5,1129.8L1369.4,1128.7L1372.3,1127.9L1375.2,1125.9L1378.1,1125.6L1381.0,1124.9L1383.9,1123.7L1386.8,1123.4L1389.7,1122.6L1392.6,1122.6L1395.5,1122.9L1398.4,1122.9L1401.3,1123.5L1404.2,1124.8L1407.1,1125.3L1410.0,1126.3L1412.9,1127.8L1415.8,1128.7L1418.7,1130.4L1421.6,1131.4L1424.5,1133.0L1427.4,1133.8L1430.3,1135.8L1433.2,1137.4L1436.1,1138.2L1439.0,1140.5L1441.9,1141.1L1444.6,1142.7L1447.3,1143.9L1450.0,1145.8L1452.7,1147.6L1455.4,1148.7L1458.1,1151.4L1460.8,1152.6L1463.5,1154.5L1466.2,1156.3L1468.9,1157.7L1471.6,1159.2L1474.3,1161.0L1477.0,1162.3L1479.8,1163.1L1482.5,1164.5L1485.2,1164.8L1487.9,1165.0L1490.8,1165.5L1493.9,1165.4L1496.9,1165.3L1500.1,1165.6L1503.2,1164.7L1506.4,1164.6L1509.5,1163.7L1512.7,1162.1L1515.7,1162.0L1518.8,1160.9L1521.7,1158.9L1524.5,1158.6L1527.2,1156.9L1529.8,1155.8L1532.2,1155.1L1534.5,1153.1L1537.5,1151.6L1540.2,1150.0L1542.7,1147.6L1544.9,1145.0L1547.0,1143.1L1548.9,1140.4L1550.7,1137.7L1552.4,1134.7L1553.9,1132.8L1555.5,1130.3L1557.0,1127.9L1559.2,1124.6L1561.1,1122.2L1562.7,1118.9L1564.1,1116.5L1565.4,1113.9L1566.6,1110.6L1567.9,1107.2L1568.9,1104.7L1569.9,1101.4L1570.8,1098.6L1571.7,1095.0L1572.6,1092.2L1573.4,1088.9L1574.2,1085.6L1574.9,1082.3L1575.6,1079.6L1576.6,1076.8L1577.4,1073.9L1578.2,1071.2L1579.0,1068.3L1580.0,1065.0L1580.8,1062.8L1581.7,1059.7L1582.6,1056.5L1583.6,1053.3L1584.6,1050.2L1585.6,1046.6L1586.6,1044.0L1587.6,1042.7L1590.0,1038.5L1592.5,1036.2L1595.3,1036.2L1596.5,1037.6L1597.8,1039.8L1599.2,1042.4L1600.6,1045.5L1602.0,1048.1L1603.5,1051.9L1604.9,1054.8L1606.3,1058.2L1607.4,1061.6L1608.5,1064.5L1609.7,1067.9L1610.8,1071.1L1611.9,1074.6L1613.0,1077.7L1614.1,1081.1L1615.2,1084.5L1616.2,1087.3L1617.2,1088.9L1619.1,1093.2L1620.5,1096.8L1622.3,1098.6L1625.5,1100.4L1627.9,1100.6L1630.7,1101.4L1633.9,1101.7L1637.3,1102.7L1640.8,1102.5L1644.3,1102.9L1647.6,1103.3L1650.7,1102.5L1653.9,1102.5L1656.9,1102.2L1659.8,1101.8L1662.7,1100.5L1665.6,1099.7L1668.5,1098.7L1671.5,1098.8L1674.6,1097.4L1677.8,1096.9L1680.9,1096.9L1684.1,1096.3L1687.4,1095.9L1690.7,1094.7L1694.0,1094.3L1697.0,1092.6L1700.1,1091.7L1703.2,1090.9L1706.4,1089.1L1709.5,1087.9L1712.5,1086.9L1715.5,1085.4L1718.3,1083.4L1720.9,1081.6L1723.3,1080.0L1725.5,1078.5L1727.7,1076.2L1729.9,1074.0L1732.2,1072.5L1734.7,1070.3L1737.4,1068.4L1739.6,1066.7L1742.0,1064.7L1744.5,1062.1L1747.1,1060.3L1749.7,1057.6L1752.4,1055.5L1755.0,1053.5L1757.5,1052.2L1759.9,1050.7L1762.1,1048.8L1764.0,1048.2L1767.4,1047.4L1770.0,1047.5L1772.3,1048.9L1774.5,1051.6L1777.2,1055.6L1778.3,1057.9L1779.4,1060.4L1780.6,1062.8L1781.9,1066.0L1783.1,1068.9L1784.4,1071.8L1785.7,1075.8L1787.0,1079.3L1788.3,1082.1L1789.5,1085.2L1790.7,1088.9L1791.8,1091.9L1792.8,1094.7L1793.7,1097.5L1794.5,1099.2L1797.1,1105.8L1798.3,1107.9L1799.0,1110.0" fill="none" stroke="#74a82a" stroke-width="3.8" stroke-linejoin="round" stroke-linecap="round"/>
<g>
<circle cx="192.0" cy="1187.0" r="11.0" fill="#6cb408" stroke="#7aa52c" stroke-width="1.2"/><circle cx="187.0" cy="1182.6" r="6" fill="url(#ghl)"/>
<circle cx="245.3" cy="1173.8" r="11.0" fill="#6cb408" stroke="#7aa52c" stroke-width="1.2"/><circle cx="240.3" cy="1169.4" r="6" fill="url(#ghl)"/>
<circle cx="289.3" cy="1161.8" r="11.0" fill="#6cb408" stroke="#7aa52c" stroke-width="1.2"/><circle cx="284.3" cy="1157.4" r="6" fill="url(#ghl)"/>
<circle cx="333.9" cy="1135.4" r="11.0" fill="#6cb408" stroke="#7aa52c" stroke-width="1.2"/><circle cx="328.9" cy="1131.0" r="6" fill="url(#ghl)"/>
<circle cx="379.8" cy="1079.8" r="11.0" fill="#6cb408" stroke="#7aa52c" stroke-width="1.2"/><circle cx="374.8" cy="1075.4" r="6" fill="url(#ghl)"/>
<circle cx="425.7" cy="972.1" r="11.0" fill="#6cb408" stroke="#7aa52c" stroke-width="1.2"/><circle cx="420.7" cy="967.7" r="6" fill="url(#ghl)"/>
<circle cx="473.0" cy="855.0" r="11.0" fill="#6cb408" stroke="#7aa52c" stroke-width="1.2"/><circle cx="468.0" cy="850.6" r="6" fill="url(#ghl)"/>
<circle cx="519.2" cy="883.7" r="11.0" fill="#6cb408" stroke="#7aa52c" stroke-width="1.2"/><circle cx="514.2" cy="879.3" r="6" fill="url(#ghl)"/>
<circle cx="564.5" cy="1102.7" r="11.0" fill="#6cb408" stroke="#7aa52c" stroke-width="1.2"/><circle cx="559.5" cy="1098.3" r="6" fill="url(#ghl)"/>
<circle cx="611.3" cy="1153.0" r="11.0" fill="#6cb408" stroke="#7aa52c" stroke-width="1.2"/><circle cx="606.3" cy="1148.6" r="6" fill="url(#ghl)"/>
<circle cx="657.6" cy="1166.5" r="11.0" fill="#6cb408" stroke="#7aa52c" stroke-width="1.2"/><circle cx="652.6" cy="1162.1" r="6" fill="url(#ghl)"/>
<circle cx="703.9" cy="1176.5" r="11.0" fill="#6cb408" stroke="#7aa52c" stroke-width="1.2"/><circle cx="698.9" cy="1172.1" r="6" fill="url(#ghl)"/>
<circle cx="749.8" cy="1178.6" r="11.0" fill="#6cb408" stroke="#7aa52c" stroke-width="1.2"/><circle cx="744.8" cy="1174.2" r="6" fill="url(#ghl)"/>
<circle cx="797.6" cy="1180.6" r="11.0" fill="#6cb408" stroke="#7aa52c" stroke-width="1.2"/><circle cx="792.6" cy="1176.2" r="6" fill="url(#ghl)"/>
<circle cx="843.4" cy="1179.6" r="11.0" fill="#6cb408" stroke="#7aa52c" stroke-width="1.2"/><circle cx="838.4" cy="1175.2" r="6" fill="url(#ghl)"/>
<circle cx="888.4" cy="1177.2" r="11.0" fill="#6cb408" stroke="#7aa52c" stroke-width="1.2"/><circle cx="883.4" cy="1172.8" r="6" fill="url(#ghl)"/>
<circle cx="934.0" cy="1169.0" r="11.0" fill="#6cb408" stroke="#7aa52c" stroke-width="1.2"/><circle cx="929.0" cy="1164.6" r="6" fill="url(#ghl)"/>
<circle cx="981.0" cy="1152.5" r="11.0" fill="#6cb408" stroke="#7aa52c" stroke-width="1.2"/><circle cx="976.0" cy="1148.1" r="6" fill="url(#ghl)"/>
<circle cx="1027.3" cy="1148.8" r="11.0" fill="#6cb408" stroke="#7aa52c" stroke-width="1.2"/><circle cx="1022.3" cy="1144.4" r="6" fill="url(#ghl)"/>
<circle cx="1072.9" cy="1162.2" r="11.0" fill="#6cb408" stroke="#7aa52c" stroke-width="1.2"/><circle cx="1067.9" cy="1157.8" r="6" fill="url(#ghl)"/>
<circle cx="1118.5" cy="1167.5" r="11.0" fill="#6cb408" stroke="#7aa52c" stroke-width="1.2"/><circle cx="1113.5" cy="1163.1" r="6" fill="url(#ghl)"/>
<circle cx="1166.1" cy="1163.3" r="11.0" fill="#6cb408" stroke="#7aa52c" stroke-width="1.2"/><circle cx="1161.1" cy="1158.9" r="6" fill="url(#ghl)"/>
<circle cx="1211.7" cy="1160.3" r="11.0" fill="#6cb408" stroke="#7aa52c" stroke-width="1.2"/><circle cx="1206.7" cy="1155.9" r="6" fill="url(#ghl)"/>
<circle cx="1258.0" cy="1160.3" r="11.0" fill="#6cb408" stroke="#7aa52c" stroke-width="1.2"/><circle cx="1253.0" cy="1155.9" r="6" fill="url(#ghl)"/>
<circle cx="1303.6" cy="1148.4" r="11.0" fill="#6cb408" stroke="#7aa52c" stroke-width="1.2"/><circle cx="1298.6" cy="1144.0" r="6" fill="url(#ghl)"/>
<circle cx="1349.2" cy="1135.7" r="11.0" fill="#6cb408" stroke="#7aa52c" stroke-width="1.2"/><circle cx="1344.2" cy="1131.3" r="6" fill="url(#ghl)"/>
<circle cx="1395.5" cy="1123.0" r="11.0" fill="#6cb408" stroke="#7aa52c" stroke-width="1.2"/><circle cx="1390.5" cy="1118.6" r="6" fill="url(#ghl)"/>
<circle cx="1441.9" cy="1141.4" r="11.0" fill="#6cb408" stroke="#7aa52c" stroke-width="1.2"/><circle cx="1436.9" cy="1137.0" r="6" fill="url(#ghl)"/>
<circle cx="1487.9" cy="1165.5" r="11.0" fill="#6cb408" stroke="#7aa52c" stroke-width="1.2"/><circle cx="1482.9" cy="1161.1" r="6" fill="url(#ghl)"/>
<circle cx="1534.5" cy="1153.4" r="11.0" fill="#6cb408" stroke="#7aa52c" stroke-width="1.2"/><circle cx="1529.5" cy="1149.0" r="6" fill="url(#ghl)"/>
<circle cx="1580.0" cy="1065.2" r="11.0" fill="#6cb408" stroke="#7aa52c" stroke-width="1.2"/><circle cx="1575.0" cy="1060.8" r="6" fill="url(#ghl)"/>
<circle cx="1625.5" cy="1100.1" r="11.0" fill="#6cb408" stroke="#7aa52c" stroke-width="1.2"/><circle cx="1620.5" cy="1095.7" r="6" fill="url(#ghl)"/>
<circle cx="1671.5" cy="1098.4" r="11.0" fill="#6cb408" stroke="#7aa52c" stroke-width="1.2"/><circle cx="1666.5" cy="1094.0" r="6" fill="url(#ghl)"/>
<circle cx="1718.3" cy="1083.6" r="11.0" fill="#6cb408" stroke="#7aa52c" stroke-width="1.2"/><circle cx="1713.3" cy="1079.2" r="6" fill="url(#ghl)"/>
<circle cx="1764.0" cy="1048.3" r="11.0" fill="#6cb408" stroke="#7aa52c" stroke-width="1.2"/><circle cx="1759.0" cy="1043.9" r="6" fill="url(#ghl)"/>
<circle cx="1794.5" cy="1099.0" r="11.0" fill="#6cb408" stroke="#7aa52c" stroke-width="1.2"/><circle cx="1789.5" cy="1094.6" r="6" fill="url(#ghl)"/>
</g>
<path d="M195.0,1175.0C197.0,1173.9 203.0,1170.5 207.2,1168.5C211.3,1166.5 215.2,1164.9 219.9,1163.3C224.6,1161.7 230.2,1159.8 235.2,1158.8C240.2,1157.8 243.5,1160.1 249.7,1157.3C255.8,1154.5 265.7,1145.4 272.1,1141.7C278.5,1138.0 283.2,1137.0 288.2,1134.9C293.2,1132.8 297.2,1131.5 302.0,1129.0C306.8,1126.5 310.4,1128.2 317.0,1120.0C323.6,1111.8 329.5,1101.2 341.9,1079.8C354.3,1058.4 375.4,1033.6 391.3,991.5C407.2,949.4 422.2,896.4 437.0,827.2C451.8,758.0 469.3,636.3 479.8,576.3C490.3,516.3 494.4,491.1 500.0,467.3C505.6,443.5 509.3,441.0 513.5,433.6C517.7,426.2 522.9,428.2 525.0,422.8C527.1,417.4 525.0,407.1 526.0,401.0C527.0,394.9 529.2,390.9 531.0,386.4C532.8,381.9 534.7,377.1 536.5,374.0C538.3,370.9 540.0,368.2 541.8,367.5C543.5,366.8 545.4,367.1 547.0,370.0C548.6,372.9 549.9,379.3 551.5,385.0C553.1,390.7 554.4,394.1 556.6,404.0C558.8,413.9 562.3,430.4 564.7,444.4C567.1,458.4 569.0,473.6 570.8,488.2C572.6,502.8 574.4,520.1 575.5,532.1C576.6,544.1 576.4,547.1 577.5,560.0C578.6,572.9 580.6,592.8 582.0,609.5C583.4,626.2 584.1,642.4 585.8,660.0C587.5,677.6 590.2,696.7 592.0,715.0C593.8,733.3 595.1,752.5 596.5,770.0C597.9,787.5 599.2,798.3 600.6,820.0C602.0,841.7 603.1,880.5 605.1,900.0C607.1,919.5 610.6,928.0 612.5,936.9C614.4,945.8 614.5,944.6 616.2,953.2C617.9,961.8 619.5,976.5 622.8,988.6C626.1,1000.7 631.4,1015.2 636.1,1025.6C640.8,1035.9 646.5,1043.9 650.9,1050.7C655.3,1057.5 656.8,1058.6 662.7,1066.2C668.6,1073.8 678.7,1086.9 686.4,1096.5C694.1,1106.1 703.5,1118.0 708.7,1124.0C714.0,1130.0 712.7,1128.3 717.9,1132.8C723.1,1137.3 733.6,1149.0 739.8,1150.8C746.0,1152.6 748.2,1147.0 755.2,1143.8C762.2,1140.6 776.5,1132.6 781.6,1131.8C786.7,1131.0 782.3,1137.2 785.6,1139.0C788.9,1140.8 791.3,1142.0 801.6,1142.8C811.9,1143.6 836.2,1144.0 847.4,1143.8C858.6,1143.5 861.3,1141.2 869.0,1141.3C876.7,1141.4 886.9,1144.7 893.6,1144.3C900.3,1143.9 904.7,1142.1 909.3,1139.1C913.9,1136.1 918.3,1127.9 921.3,1126.4C924.3,1124.9 924.1,1128.6 927.2,1130.1C930.3,1131.6 930.0,1139.8 939.9,1135.3C949.8,1130.8 971.0,1114.3 986.3,1103.2C1001.6,1092.1 1020.5,1075.7 1031.8,1068.8C1043.1,1061.9 1048.2,1063.7 1054.2,1062.1C1060.2,1060.5 1063.6,1057.3 1067.7,1059.1C1071.8,1060.8 1069.4,1062.5 1078.9,1072.6C1088.4,1082.7 1112.7,1111.3 1124.5,1119.6C1136.3,1127.9 1142.1,1123.3 1149.9,1122.6C1157.7,1121.9 1160.1,1119.0 1171.4,1115.5C1182.7,1112.0 1202.1,1103.4 1217.7,1101.3C1233.3,1099.2 1249.3,1103.2 1264.9,1102.9C1280.5,1102.7 1295.7,1105.3 1311.1,1099.8C1326.5,1094.3 1342.0,1079.4 1357.4,1069.9C1372.8,1060.4 1388.2,1052.0 1403.7,1043.0C1419.2,1034.0 1440.1,1021.1 1450.1,1015.9C1460.1,1010.6 1455.9,1009.0 1463.8,1011.5C1471.7,1014.0 1489.9,1025.2 1497.2,1031.2C1504.5,1037.2 1502.3,1042.8 1507.7,1047.7C1513.1,1052.6 1523.8,1058.1 1529.6,1060.8C1535.4,1063.5 1538.1,1064.1 1542.7,1064.1C1547.3,1064.1 1551.0,1065.0 1557.0,1060.8C1563.0,1056.6 1573.2,1044.3 1578.9,1038.9C1584.6,1033.5 1588.3,1031.3 1591.0,1028.3C1593.7,1025.2 1592.7,1027.2 1595.0,1020.6C1597.3,1014.0 1602.2,998.3 1605.0,988.8C1607.8,979.3 1609.8,973.5 1611.7,963.8C1613.7,954.1 1615.2,941.5 1616.7,930.4C1618.2,919.3 1619.5,908.1 1620.9,897.0C1622.3,885.9 1623.8,873.2 1625.1,863.5C1626.3,853.8 1627.3,846.9 1628.4,838.5C1629.5,830.1 1630.8,820.1 1631.8,813.4C1632.8,806.7 1633.5,803.4 1634.7,798.5C1635.9,793.6 1637.5,788.5 1639.0,784.0C1640.5,779.5 1642.4,772.6 1644.0,771.6C1645.6,770.6 1647.2,774.8 1648.5,778.0C1649.8,781.2 1649.9,780.9 1651.7,790.8C1653.5,800.6 1656.8,821.7 1659.4,837.1C1662.0,852.5 1664.5,870.4 1667.1,883.3C1669.7,896.1 1672.5,905.2 1674.8,914.2C1677.1,923.2 1678.1,931.3 1681.0,937.3C1683.9,943.3 1688.4,947.2 1692.0,950.0C1695.6,952.8 1698.8,954.6 1702.5,954.3C1706.2,954.0 1709.9,951.1 1714.0,948.0C1718.1,944.9 1721.2,941.9 1727.2,935.8C1733.2,929.6 1742.6,918.2 1750.3,911.1C1758.0,904.0 1766.5,896.5 1773.5,893.4C1780.5,890.3 1787.9,892.5 1792.0,892.6C1796.1,892.7 1797.0,893.8 1798.0,894.0" fill="none" stroke="#cd4a45" stroke-width="3.8" stroke-linejoin="round" stroke-linecap="round"/>
<g fill="#eb3c3c" stroke="#ffc8c0" stroke-opacity="0.5" stroke-width="1.4" paint-order="stroke" stroke-linejoin="round">
<path d="M195.0,1160.8L207.8,1175.0L195.0,1189.2L182.2,1175.0Z"/>
<path d="M235.2,1144.5L247.9,1158.8L235.2,1173.0L222.4,1158.8Z"/>
<path d="M288.2,1120.7L300.9,1134.9L288.2,1149.2L275.4,1134.9Z"/>
<path d="M341.9,1065.5L354.6,1079.8L341.9,1094.0L329.1,1079.8Z"/>
<path d="M391.3,977.2L404.1,991.5L391.3,1005.8L378.6,991.5Z"/>
<path d="M437.0,813.0L449.8,827.2L437.0,841.5L424.2,827.2Z"/>
<path d="M479.8,562.0L492.6,576.3L479.8,590.5L467.1,576.3Z"/>
<path d="M525.0,408.6L537.8,422.8L525.0,437.1L512.2,422.8Z"/>
<path d="M570.8,473.9L583.5,488.2L570.8,502.4L558.0,488.2Z"/>
<path d="M616.2,939.0L629.0,953.2L616.2,967.5L603.5,953.2Z"/>
<path d="M662.7,1052.0L675.5,1066.2L662.7,1080.5L650.0,1066.2Z"/>
<path d="M708.7,1109.8L721.5,1124.0L708.7,1138.2L696.0,1124.0Z"/>
<path d="M755.2,1129.5L768.0,1143.8L755.2,1158.0L742.5,1143.8Z"/>
<path d="M801.6,1128.5L814.4,1142.8L801.6,1157.0L788.9,1142.8Z"/>
<path d="M847.4,1129.5L860.1,1143.8L847.4,1158.0L834.6,1143.8Z"/>
<path d="M893.6,1130.0L906.4,1144.3L893.6,1158.5L880.9,1144.3Z"/>
<path d="M939.9,1121.0L952.6,1135.3L939.9,1149.5L927.1,1135.3Z"/>
<path d="M986.3,1089.0L999.0,1103.2L986.3,1117.5L973.5,1103.2Z"/>
<path d="M1031.8,1054.5L1044.5,1068.8L1031.8,1083.0L1019.0,1068.8Z"/>
<path d="M1078.9,1058.3L1091.7,1072.6L1078.9,1086.8L1066.2,1072.6Z"/>
<path d="M1124.5,1105.3L1137.2,1119.6L1124.5,1133.8L1111.8,1119.6Z"/>
<path d="M1171.4,1101.2L1184.2,1115.5L1171.4,1129.8L1158.7,1115.5Z"/>
<path d="M1217.7,1087.0L1230.5,1101.3L1217.7,1115.5L1205.0,1101.3Z"/>
<path d="M1264.9,1088.7L1277.7,1102.9L1264.9,1117.2L1252.2,1102.9Z"/>
<path d="M1311.1,1085.5L1323.8,1099.8L1311.1,1114.0L1298.3,1099.8Z"/>
<path d="M1357.4,1055.7L1370.2,1069.9L1357.4,1084.2L1344.7,1069.9Z"/>
<path d="M1403.7,1028.8L1416.5,1043.0L1403.7,1057.2L1391.0,1043.0Z"/>
<path d="M1450.1,1001.6L1462.8,1015.9L1450.1,1030.2L1437.3,1015.9Z"/>
<path d="M1497.2,1017.0L1510.0,1031.2L1497.2,1045.5L1484.5,1031.2Z"/>
<path d="M1542.7,1049.8L1555.5,1064.1L1542.7,1078.3L1530.0,1064.1Z"/>
<path d="M1591.0,1014.0L1603.8,1028.3L1591.0,1042.5L1578.2,1028.3Z"/>
<path d="M1634.7,784.2L1647.5,798.5L1634.7,812.8L1622.0,798.5Z"/>
<path d="M1681.0,923.0L1693.8,937.3L1681.0,951.5L1668.2,937.3Z"/>
<path d="M1727.2,921.5L1740.0,935.8L1727.2,950.0L1714.5,935.8Z"/>
<path d="M1773.5,879.1L1786.2,893.4L1773.5,907.6L1760.8,893.4Z"/>
<path d="M1792.0,878.4L1804.8,892.6L1792.0,906.9L1779.2,892.6Z"/>
</g>
</g>
<line x1="784.7" y1="109" x2="784.7" y2="1386" stroke="#ffffff" stroke-width="3.8" stroke-dasharray="26 24.15"/>
<line x1="1153.6" y1="109" x2="1153.6" y2="1386" stroke="#ffffff" stroke-width="3.8" stroke-dasharray="26 24.15"/>
<rect x="195.2" y="95.0" width="1604.0" height="1293.2" fill="none" stroke="#000" stroke-width="5"/>
<rect x="192.7" y="91.8" width="1609" height="5.5" fill="#000"/>
<path d="M323.7,1385.7V1363.2M508.1,1385.7V1363.2M692.5,1385.7V1363.2M876.9,1385.7V1363.2M1061.4,1385.7V1363.2M1245.8,1385.7V1363.2M1430.2,1385.7V1363.2M1614.6,1385.7V1363.2M231.5,1385.7V1376.1M415.9,1385.7V1376.1M600.3,1385.7V1376.1M784.7,1385.7V1376.1M969.1,1385.7V1376.1M1153.6,1385.7V1376.1M1338.0,1385.7V1376.1M1522.4,1385.7V1376.1M1706.8,1385.7V1376.1M197.7,1388.2H220.2M197.7,1258.9H220.2M197.7,1129.7H220.2M197.7,1000.4H220.2M197.7,871.1H220.2M197.7,741.9H220.2M197.7,612.6H220.2M197.7,483.3H220.2M197.7,354.0H220.2M197.7,224.8H220.2M197.7,95.5H220.2M197.7,1323.6H207.3M197.7,1194.3H207.3M197.7,1065.0H207.3M197.7,935.8H207.3M197.7,806.5H207.3M197.7,677.2H207.3M197.7,547.9H207.3M197.7,418.7H207.3M197.7,289.4H207.3M197.7,160.1H207.3M1796.7,1388.2H1774.2M1796.7,1203.5H1774.2M1796.7,1018.9H1774.2M1796.7,834.2H1774.2M1796.7,649.5H1774.2M1796.7,464.8H1774.2M1796.7,280.2H1774.2M1796.7,95.5H1774.2M1796.7,1295.9H1787.1M1796.7,1111.2H1787.1M1796.7,926.5H1787.1M1796.7,741.8H1787.1M1796.7,557.2H1787.1M1796.7,372.5H1787.1M1796.7,187.8H1787.1" stroke="#000" stroke-width="3.6" fill="none"/>
<text x="165.5" y="1403.5" font-size="55" text-anchor="end" font-family="Liberation Serif, Times New Roman, serif" fill="#000">55</text>
<text x="168.0" y="1274.2" font-size="55" text-anchor="end" font-family="Liberation Serif, Times New Roman, serif" fill="#000">60</text>
<text x="165.5" y="1145.0" font-size="55" text-anchor="end" font-family="Liberation Serif, Times New Roman, serif" fill="#000">65</text>
<text x="168.0" y="1015.7" font-size="55" text-anchor="end" font-family="Liberation Serif, Times New Roman, serif" fill="#000">70</text>
<text x="165.5" y="886.4" font-size="55" text-anchor="end" font-family="Liberation Serif, Times New Roman, serif" fill="#000">75</text>
<text x="168.0" y="757.1" font-size="55" text-anchor="end" font-family="Liberation Serif, Times New Roman, serif" fill="#000">80</text>
<text x="165.5" y="627.9" font-size="55" text-anchor="end" font-family="Liberation Serif, Times New Roman, serif" fill="#000">85</text>
<text x="168.0" y="498.6" font-size="55" text-anchor="end" font-family="Liberation Serif, Times New Roman, serif" fill="#000">90</text>
<text x="165.5" y="369.3" font-size="55" text-anchor="end" font-family="Liberation Serif, Times New Roman, serif" fill="#000">95</text>
<text x="168.0" y="240.1" font-size="55" text-anchor="end" font-family="Liberation Serif, Times New Roman, serif" fill="#000">100</text>
<text x="165.5" y="110.8" font-size="55" text-anchor="end" font-family="Liberation Serif, Times New Roman, serif" fill="#000">105</text>
<text x="1825" y="1403.5" font-size="55" font-family="Liberation Serif, Times New Roman, serif" fill="#000">-1.5</text>
<text x="1825" y="1218.8" font-size="55" font-family="Liberation Serif, Times New Roman, serif" fill="#000">0.0</text>
<text x="1825" y="1034.2" font-size="55" font-family="Liberation Serif, Times New Roman, serif" fill="#000">1.5</text>
<text x="1825" y="849.5" font-size="55" font-family="Liberation Serif, Times New Roman, serif" fill="#000">3.0</text>
<text x="1825" y="664.8" font-size="55" font-family="Liberation Serif, Times New Roman, serif" fill="#000">4.5</text>
<text x="1825" y="480.1" font-size="55" font-family="Liberation Serif, Times New Roman, serif" fill="#000">6.0</text>
<text x="1825" y="295.5" font-size="55" font-family="Liberation Serif, Times New Roman, serif" fill="#000">7.5</text>
<text x="1825" y="110.8" font-size="55" textLength="72" lengthAdjust="spacingAndGlyphs" font-family="Liberation Serif, Times New Roman, serif" fill="#000">9.0</text>
<text x="323.7" y="1457.5" font-size="55" text-anchor="middle" font-family="Liberation Serif, Times New Roman, serif" fill="#000">100</text>
<text x="508.1" y="1457.5" font-size="55" text-anchor="middle" font-family="Liberation Serif, Times New Roman, serif" fill="#000">200</text>
<text x="692.5" y="1457.5" font-size="55" text-anchor="middle" font-family="Liberation Serif, Times New Roman, serif" fill="#000">300</text>
<text x="876.9" y="1457.5" font-size="55" text-anchor="middle" font-family="Liberation Serif, Times New Roman, serif" fill="#000">400</text>
<text x="1061.4" y="1457.5" font-size="55" text-anchor="middle" font-family="Liberation Serif, Times New Roman, serif" fill="#000">500</text>
<text x="1245.8" y="1457.5" font-size="55" text-anchor="middle" font-family="Liberation Serif, Times New Roman, serif" fill="#000">600</text>
<text x="1430.2" y="1457.5" font-size="55" text-anchor="middle" font-family="Liberation Serif, Times New Roman, serif" fill="#000">700</text>
<text x="1614.6" y="1457.5" font-size="55" text-anchor="middle" font-family="Liberation Serif, Times New Roman, serif" fill="#000">800</text>
<text x="1799.0" y="1457.5" font-size="55" text-anchor="middle" font-family="Liberation Serif, Times New Roman, serif" fill="#000">900</text>
<text x="995.9" y="1538.2" font-size="71" text-anchor="middle" textLength="457" lengthAdjust="spacingAndGlyphs" font-family="Liberation Serif, Times New Roman, serif" fill="#000">Temperature(°C)</text>
<text transform="translate(66.5,740.5) rotate(-90)" x="0" y="0" font-size="71" text-anchor="middle" textLength="209" lengthAdjust="spacingAndGlyphs" font-family="Liberation Serif, Times New Roman, serif" fill="#000">TG (%)</text>
<text transform="translate(1987,741.9) rotate(-90)" x="0" y="0" font-size="70" text-anchor="middle" textLength="380.5" lengthAdjust="spacingAndGlyphs" font-family="Liberation Serif, Times New Roman, serif" fill="#000">DTG (%/min)</text>
<line x1="1315" y1="236.6" x2="1446" y2="236.6" stroke="#2f64b0" stroke-width="3.8" stroke-linecap="round"/>
<g fill="#1c6ce0"><path d="M1381.6,220.6L1395.1,244.6L1368.1,244.6Z"/></g>
<text x="1489.5" y="255.8" font-size="57" textLength="220.7" lengthAdjust="spacingAndGlyphs" font-family="Liberation Serif, Times New Roman, serif" fill="#000">10°C/min</text>
<line x1="1315" y1="308.8" x2="1446" y2="308.8" stroke="#74a82a" stroke-width="3.8" stroke-linecap="round"/>
<circle cx="1381.2" cy="308.6" r="12.0" fill="#6cb408" stroke="#7aa52c" stroke-width="1.2"/><circle cx="1376.2" cy="304.2" r="6" fill="url(#ghl)"/>
<text x="1489.5" y="325.8" font-size="57" textLength="220.7" lengthAdjust="spacingAndGlyphs" font-family="Liberation Serif, Times New Roman, serif" fill="#000">20°C/min</text>
<line x1="1315" y1="379.6" x2="1446" y2="379.6" stroke="#cd4a45" stroke-width="3.8" stroke-linecap="round"/>
<g fill="#eb3c3c"><path d="M1381.7,365.4L1394.7,379.9L1381.7,394.4L1368.7,379.9Z"/></g>
<text x="1489.5" y="397.0" font-size="57" textLength="220.7" lengthAdjust="spacingAndGlyphs" font-family="Liberation Serif, Times New Roman, serif" fill="#000">50°C/min</text>
</g>
</svg></body></html>
